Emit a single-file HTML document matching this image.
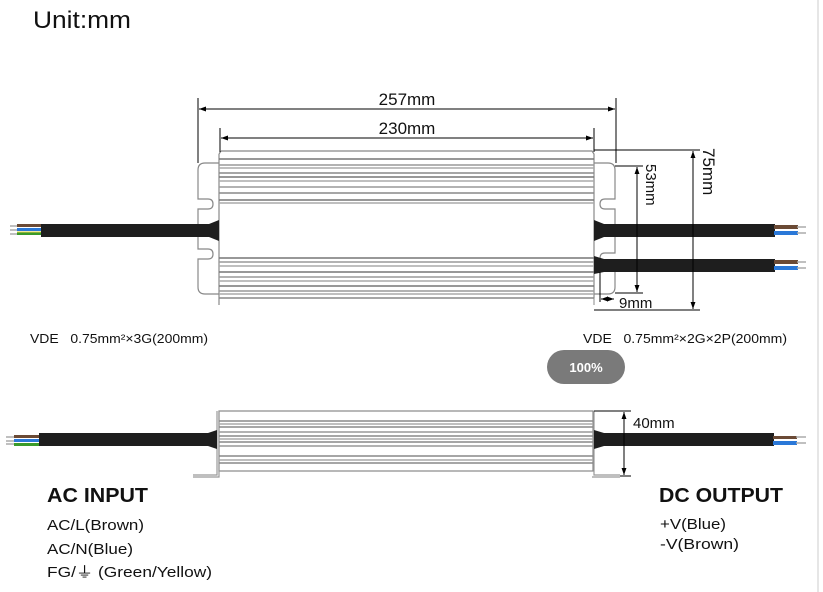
<!DOCTYPE html>
<html><head><meta charset="utf-8"><style>
body{margin:0;background:#fff;width:823px;height:592px;overflow:hidden;}
svg{display:block}
text{font-family:"Liberation Sans","Noto Sans CJK SC",sans-serif;fill:#111}
</style></head><body>
<svg width="823" height="592" viewBox="0 0 823 592">
<defs>
<marker id="a" viewBox="0 0 10 10" refX="10" refY="5" markerWidth="7" markerHeight="7" orient="auto-start-reverse"><path d="M0,1.5 L10,5 L0,8.5 z" fill="#000"/></marker>
</defs>
<line x1="818" y1="0" x2="818" y2="592" stroke="#e6e6e6" stroke-width="2"/>
<text x="33" y="28" font-size="24" textLength="98" lengthAdjust="spacingAndGlyphs">Unit:mm</text>

<path d="M219,163 H205 Q198,163 198,170 V199 H208 Q213,199 213,204 Q213,209 208,209 H198 V249 H208 Q213,249 213,254 Q213,259 208,259 H198 V287 Q198,294 205,294 H219" fill="none" stroke="#888" stroke-width="1.2"/>
<path d="M594,163 H608 Q615,163 615,170 V199 H605 Q600,199 600,204 Q600,209 605,209 H615 V253 H605 Q600,253 600,258 Q600,263 605,263 H615 V287 Q615,294 608,294 H594" fill="none" stroke="#888" stroke-width="1.2"/>
<path d="M221,151 H592 L594,154 V298 M219,154 L221,151 M219,154 V305" fill="none" stroke="#888" stroke-width="1.2"/>
<line x1="594" y1="298" x2="594" y2="305" stroke="#888"/>
<g stroke-width="1.6">
<line x1="219" y1="159" x2="594" y2="159" stroke="#777"/>
<line x1="219" y1="165" x2="594" y2="165" stroke="#999"/>
<line x1="219" y1="168" x2="594" y2="168" stroke="#aaa"/>
<line x1="219" y1="173" x2="594" y2="173" stroke="#888"/>
<line x1="219" y1="177" x2="594" y2="177" stroke="#777"/>
<line x1="219" y1="181" x2="594" y2="181" stroke="#aaa"/>
<line x1="219" y1="187" x2="594" y2="187" stroke="#999"/>
<line x1="219" y1="193" x2="594" y2="193" stroke="#888"/>
<line x1="219" y1="200" x2="594" y2="200" stroke="#777"/>
<line x1="219" y1="203" x2="594" y2="203" stroke="#aaa"/>
<line x1="219" y1="258" x2="594" y2="258" stroke="#777"/>
<line x1="219" y1="262" x2="594" y2="262" stroke="#999"/>
<line x1="219" y1="266" x2="594" y2="266" stroke="#aaa"/>
<line x1="219" y1="272" x2="594" y2="272" stroke="#777"/>
<line x1="219" y1="277" x2="594" y2="277" stroke="#999"/>
<line x1="219" y1="281" x2="594" y2="281" stroke="#aaa"/>
<line x1="219" y1="286" x2="594" y2="286" stroke="#777"/>
<line x1="219" y1="291" x2="594" y2="291" stroke="#999"/>
<line x1="219" y1="294" x2="594" y2="294" stroke="#aaa"/>
<line x1="219" y1="298" x2="594" y2="298" stroke="#888"/>
</g>
<line x1="10" y1="226" x2="20" y2="226" stroke="#aaa" stroke-width="1.5"/>
<line x1="10" y1="230" x2="20" y2="230" stroke="#aaa" stroke-width="1.5"/>
<line x1="10" y1="234" x2="20" y2="234" stroke="#aaa" stroke-width="1.5"/>
<rect x="17" y="224" width="25" height="3" fill="#6b4a35"/>
<rect x="17" y="228" width="25" height="3" fill="#2a78d8"/>
<rect x="17" y="232" width="25" height="3" fill="#3a9a2a"/>
<line x1="17" y1="232" x2="42" y2="232" stroke="#e0d040" stroke-width="1"/>
<rect x="41" y="224" width="172" height="13" fill="#1e1e1e"/>
<path d="M209,224 L219,220 V241 L209,237 z" fill="#1e1e1e"/>
<path d="M594,220 L604,224 V237 L594,241 z" fill="#1e1e1e"/>
<rect x="600" y="224" width="175" height="13" fill="#1e1e1e"/>
<rect x="774" y="225" width="24" height="4" fill="#6b4a35"/><rect x="774" y="231" width="24" height="4" fill="#2a78d8"/>
<line x1="797" y1="227" x2="806" y2="227" stroke="#aaa" stroke-width="1.5"/><line x1="797" y1="233" x2="806" y2="233" stroke="#aaa" stroke-width="1.5"/>
<path d="M594,256 L604,259 V272 L594,274 z" fill="#1e1e1e"/>
<rect x="600" y="259" width="175" height="13" fill="#1e1e1e"/>
<rect x="774" y="260" width="24" height="4" fill="#6b4a35"/><rect x="774" y="266" width="24" height="4" fill="#2a78d8"/>
<line x1="797" y1="262" x2="806" y2="262" stroke="#aaa" stroke-width="1.5"/><line x1="797" y1="268" x2="806" y2="268" stroke="#aaa" stroke-width="1.5"/>

<g stroke="#000" stroke-width="1" fill="none">
<line x1="198" y1="98" x2="198" y2="163"/>
<line x1="616" y1="98" x2="616" y2="163"/>
<line x1="199" y1="109" x2="615" y2="109" marker-start="url(#a)" marker-end="url(#a)"/>
<line x1="220" y1="128" x2="220" y2="152"/>
<line x1="594" y1="128" x2="594" y2="152"/>
<line x1="221" y1="138" x2="593" y2="138" marker-start="url(#a)" marker-end="url(#a)"/>
<line x1="594" y1="150" x2="700" y2="150"/>
<line x1="594" y1="310" x2="700" y2="310"/>
<line x1="693" y1="151" x2="693" y2="309" marker-start="url(#a)" marker-end="url(#a)"/>
<line x1="615" y1="166" x2="643" y2="166"/>
<line x1="615" y1="293" x2="643" y2="293"/>
<line x1="637" y1="167" x2="637" y2="292" marker-start="url(#a)" marker-end="url(#a)"/>
<line x1="600" y1="272" x2="600" y2="302"/>
<line x1="601" y1="299" x2="614" y2="299" marker-start="url(#a)" marker-end="url(#a)"/>
</g>
<text x="407" y="105" font-size="17" text-anchor="middle">257mm</text>
<text x="407" y="134" font-size="17" text-anchor="middle">230mm</text>
<text transform="translate(703,148) rotate(90)" font-size="17">75mm</text>
<text transform="translate(646,164) rotate(90)" font-size="15">53mm</text>
<text x="619" y="308" font-size="15">9mm</text>

<text x="30" y="343" font-size="13" textLength="178" lengthAdjust="spacingAndGlyphs">VDE&#160;&#160;&#160;0.75mm²×3G(200mm)</text>
<text x="583" y="343" font-size="13" textLength="204" lengthAdjust="spacingAndGlyphs">VDE&#160;&#160;&#160;0.75mm²×2G×2P(200mm)</text>
<rect x="547" y="350" width="78" height="34" rx="17" fill="#7a7a7a"/>
<text x="586" y="372" font-size="13" font-weight="bold" text-anchor="middle" style="fill:#fff">100%</text>

<rect x="219" y="411" width="374" height="60" fill="none" stroke="#888" stroke-width="1.2"/>
<path d="M217,411 V475 H193 M193,477 H219 V411" fill="none" stroke="#999" stroke-width="1.2"/>
<path d="M594,411 V475 H620 M620,477 H592" fill="none" stroke="#999" stroke-width="1.2"/>
<g stroke-width="1.5">
<line x1="219" y1="421" x2="593" y2="421" stroke="#888"/>
<line x1="219" y1="424" x2="593" y2="424" stroke="#aaa"/>
<line x1="219" y1="427" x2="593" y2="427" stroke="#888"/>
<line x1="219" y1="432" x2="593" y2="432" stroke="#999"/>
<line x1="219" y1="436" x2="593" y2="436" stroke="#888"/>
<line x1="219" y1="439" x2="593" y2="439" stroke="#aaa"/>
<line x1="219" y1="442" x2="593" y2="442" stroke="#888"/>
<line x1="219" y1="446" x2="593" y2="446" stroke="#999"/>
<line x1="219" y1="456" x2="593" y2="456" stroke="#888"/>
<line x1="219" y1="460" x2="593" y2="460" stroke="#aaa"/>
<line x1="219" y1="463" x2="593" y2="463" stroke="#888"/>
</g>
<line x1="6" y1="437" x2="16" y2="437" stroke="#aaa" stroke-width="1.5"/>
<line x1="6" y1="441" x2="16" y2="441" stroke="#aaa" stroke-width="1.5"/>
<line x1="6" y1="444" x2="16" y2="444" stroke="#aaa" stroke-width="1.5"/>
<rect x="14" y="435" width="26" height="3" fill="#6b4a35"/>
<rect x="14" y="439" width="26" height="3" fill="#2a78d8"/>
<rect x="14" y="443" width="26" height="3" fill="#3a9a2a"/>
<rect x="39" y="433" width="172" height="13" fill="#1e1e1e"/>
<path d="M208,433 L217,430 V449 L208,446 z" fill="#1e1e1e"/>
<path d="M594,430 L604,433 V446 L594,449 z" fill="#1e1e1e"/>
<rect x="600" y="433" width="174" height="13" fill="#1e1e1e"/>
<rect x="773" y="436" width="24" height="3" fill="#6b4a35"/><rect x="773" y="441" width="24" height="4" fill="#2a78d8"/>
<line x1="796" y1="437" x2="806" y2="437" stroke="#aaa" stroke-width="1.5"/><line x1="796" y1="443" x2="806" y2="443" stroke="#aaa" stroke-width="1.5"/>
<g stroke="#000" stroke-width="1">
<line x1="594" y1="411" x2="631" y2="411"/>
<line x1="620" y1="476" x2="631" y2="476"/>
<line x1="624" y1="412" x2="624" y2="475" marker-start="url(#a)" marker-end="url(#a)"/>
</g>
<text x="633" y="428" font-size="15">40mm</text>

<text x="47" y="502" font-size="20" font-weight="bold" textLength="101" lengthAdjust="spacingAndGlyphs">AC INPUT</text>
<text x="47" y="530" font-size="15" textLength="97" lengthAdjust="spacingAndGlyphs">AC/L(Brown)</text>
<text x="47" y="554" font-size="15" textLength="86" lengthAdjust="spacingAndGlyphs">AC/N(Blue)</text>
<text x="47" y="577" font-size="15" textLength="165" lengthAdjust="spacingAndGlyphs">FG/⏚ (Green/Yellow)</text>
<text x="659" y="502" font-size="20" font-weight="bold" textLength="124" lengthAdjust="spacingAndGlyphs">DC OUTPUT</text>
<text x="660" y="529" font-size="15" textLength="66" lengthAdjust="spacingAndGlyphs">+V(Blue)</text>
<text x="660" y="549" font-size="15" textLength="79" lengthAdjust="spacingAndGlyphs">-V(Brown)</text>
</svg>
</body></html>
